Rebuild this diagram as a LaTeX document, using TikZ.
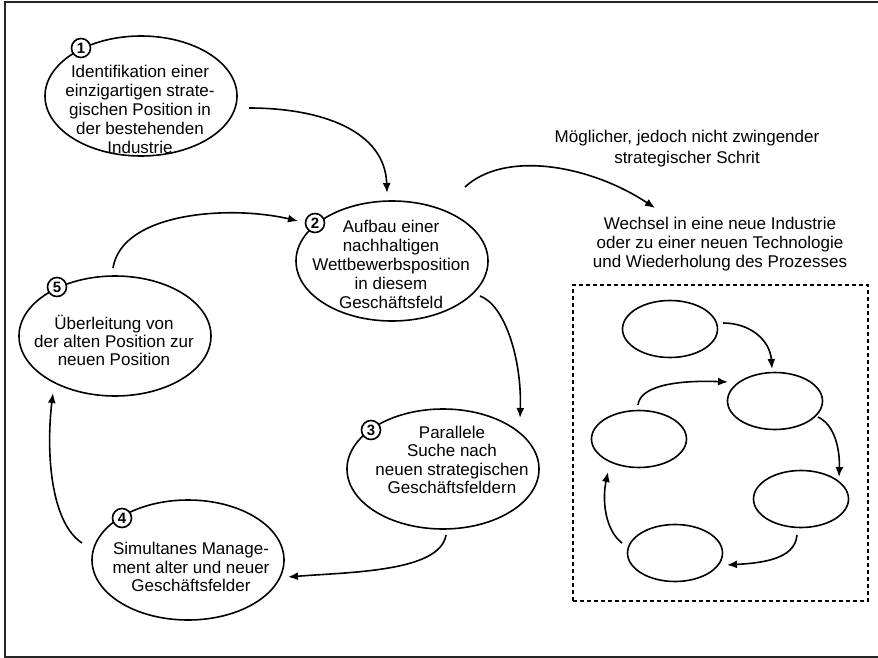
\documentclass[tikz,border=0pt]{standalone}
\usepackage{fontspec}
\setmainfont{Liberation Sans}
\usetikzlibrary{shapes.geometric,arrows.meta}
\begin{document}
\begin{tikzpicture}[x=1pt,y=-1pt,
  big/.style={ellipse,draw,line width=1.6pt,minimum width=192pt,minimum height=120pt,inner sep=0pt},
  small/.style={ellipse,draw,line width=1.6pt,minimum width=95pt,minimum height=57pt,inner sep=0pt},
  num/.style={circle,draw,fill=white,line width=1.6pt,minimum size=19pt,inner sep=0pt,font=\fontsize{15}{15}\selectfont\bfseries},
  txt/.style={align=center,font=\fontsize{17}{19}\selectfont,inner sep=0pt},
  arr/.style={line width=1.6pt,-{Latex[length=10pt,width=8pt]}},
]
\useasboundingbox (0,0) rectangle (878,658);
% outer frame
\draw[line width=1.8pt,black!85] (885,2) -- (5,2) -- (5,657) -- (885,657);

% big ellipses
\node[big] (e1) at (141,96) {};
\node[big] (e2) at (392,261) {};
\node[big] (e3) at (443,469) {};
\node[big] (e4) at (188,560) {};
\node[big] (e5) at (115,336) {};

% number circles
\node[num] (n1) at (81,48) {1};
\node[num] (n2) at (315,223) {2};
\node[num] (n3) at (371,430) {3};
\node[num] (n4) at (122,518) {4};
\node[num] (n5) at (57,287) {5};

% texts
\node[txt] (t1) at (140,109) {Identifikation einer\\einzigartigen strate-\\gischen Position in\\der bestehenden\\Industrie};
\node[txt] (t2) at (391,264) {Aufbau einer\\nachhaltigen\\Wettbewerbsposition\\in diesem\\Geschäftsfeld};
\node[txt,font=\fontsize{17}{18.5}\selectfont] (t3) at (452,460) {Parallele\\Suche nach\\neuen strategischen\\Geschäftsfeldern};
\node[txt,font=\fontsize{17}{18.5}\selectfont] (t4) at (191,567) {Simultanes Manage-\\ment alter und neuer\\Geschäftsfelder};
\node[txt,font=\fontsize{17}{18}\selectfont] (t5) at (114,340) {Überleitung von\\der alten Position zur\\neuen Position};
\node[txt,font=\fontsize{17}{21}\selectfont] (tm) at (687,149) {Möglicher, jedoch nicht zwingender\\strategischer Schrit};
\node[txt] (tw) at (720,244) {Wechsel in eine neue Industrie\\oder zu einer neuen Technologie\\und Wiederholung des Prozesses};

% connector end points
\coordinate (s12) at (249,108); \coordinate (d12) at (387,193);
\coordinate (s23) at (480,296); \coordinate (d23) at (520,418);
\coordinate (s34) at (446,535); \coordinate (d34) at (288,577);
\coordinate (s45) at (82,543);  \coordinate (d45) at (53,393);
\coordinate (s52) at (113,268); \coordinate (d52) at (298,221);
\coordinate (s2w) at (465,187); \coordinate (d2w) at (655,208);

\draw[arr] (s12) .. controls (320,108) and (385,130) .. (d12);
\draw[arr] (s23) .. controls (505,305) and (522,360) .. (d23);
\draw[arr] (s34) .. controls (440,572) and (350,572) .. (d34);
\draw[arr] (s45) .. controls (50,522) and (46,450) .. (d45);
\draw[arr] (s52) .. controls (122,212) and (230,205) .. (d52);
\draw[arr] (s2w) .. controls (505,150) and (590,165) .. (d2w);

% dashed box
\node[draw,line width=1.8pt,dash pattern=on 4pt off 3pt,minimum width=295pt,minimum height=316pt,inner sep=0pt] (box) at (720.5,443) {};

% small ellipses
\node[small] (sa) at (670,329) {};
\node[small] (sb) at (775,401) {};
\node[small] (sc) at (639,439) {};
\node[small] (sd) at (801,499) {};
\node[small] (se) at (675,553) {};

\coordinate (sab) at (723,323); \coordinate (dab) at (772,369);
\coordinate (scb) at (638,405); \coordinate (dcb) at (728,382);
\coordinate (sbd) at (818,417); \coordinate (dbd) at (839,477);
\coordinate (sde) at (797,535); \coordinate (dde) at (727,565);
\coordinate (sec) at (622,543); \coordinate (dec) at (608,472);

\draw[arr] (sab) .. controls (750,323) and (770,340) .. (dab);
\draw[arr] (scb) .. controls (640,385) and (680,380) .. (dcb);
\draw[arr] (sbd) .. controls (835,425) and (840,450) .. (dbd);
\draw[arr] (sde) .. controls (795,560) and (760,563) .. (dde);
\draw[arr] (sec) .. controls (605,530) and (602,500) .. (dec);
\end{tikzpicture}
\end{document}
